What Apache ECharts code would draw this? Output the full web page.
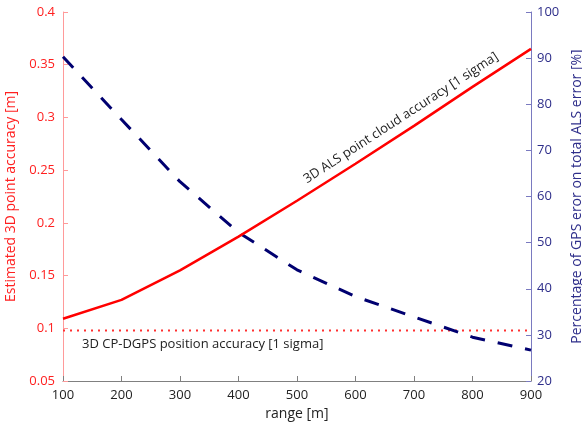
<!DOCTYPE html>
<html>
<head>
<meta charset="utf-8">
<script src="https://cdn.jsdelivr.net/npm/echarts@6/dist/echarts.min.js"></script>
<style>
  html, body { margin: 0; padding: 0; background: #fff; }
  #chart { width: 582px; height: 426px; }
</style>
</head>
<body>
<div id="chart"></div>
<script>
// range [m]
var range = [100, 200, 300, 400, 500, 600, 700, 800, 900];
// 3D ALS point cloud accuracy [m], left axis
var alsAccuracy = [0.109, 0.127, 0.155, 0.187, 0.221, 0.256, 0.292, 0.329, 0.365];
// share of GPS error on total ALS error [%], right axis
var gpsShare = [90.3, 76.7, 63.2, 52.2, 44.1, 38.3, 33.9, 29.5, 26.7];
// 3D CP-DGPS position accuracy [m], constant
var gpsAccuracy = 0.098;

var font = 'Open Sans';

var pairs = function (xs, ys) {
    return xs.map(function (x, i) { return [x, ys[i]]; });
};

var myChart = echarts.init(document.getElementById('chart'));

var option = {
    animation: false,
    textStyle: { fontFamily: font },
    grid: { left: 63, right: 51, top: 12, bottom: 45, outerBoundsMode: 'none' },
    xAxis: {
        type: 'value',
        min: 100,
        max: 900,
        interval: 100,
        name: 'range [m]',
        nameLocation: 'middle',
        nameGap: 23,
        nameTextStyle: { fontFamily: font, fontSize: 14, color: '#222' },
        axisLine: { lineStyle: { color: '#808080', width: 1 } },
        axisTick: { inside: true, length: 5, lineStyle: { color: '#808080' } },
        axisLabel: { fontFamily: font, fontSize: 13, color: '#222', margin: 8 },
        splitLine: { show: false }
    },
    yAxis: [
        {
            type: 'value',
            min: 0.05,
            max: 0.4,
            interval: 0.05,
            position: 'left',
            name: 'Estimated 3D point accuracy [m]',
            nameLocation: 'middle',
            nameGap: 42,
            nameTextStyle: { fontFamily: font, fontSize: 14, color: '#ff2020' },
            axisLine: { show: true, lineStyle: { color: '#ff9a9a', width: 1 } },
            axisTick: { show: true, inside: true, length: 5, lineStyle: { color: '#ff9a9a' } },
            axisLabel: {
                fontFamily: font, fontSize: 13, color: '#ff2020', margin: 8,
                formatter: function (v) { return String(+v.toFixed(2)); }
            },
            splitLine: { show: false }
        },
        {
            type: 'value',
            min: 20,
            max: 100,
            interval: 10,
            position: 'right',
            name: 'Percentage of GPS eror on total ALS error [%]',
            nameLocation: 'middle',
            nameGap: 35,
            nameTextStyle: { fontFamily: font, fontSize: 14, color: '#2e2e8a' },
            axisLine: { show: true, lineStyle: { color: '#7a7ac0', width: 1 } },
            axisTick: { show: true, inside: true, length: 5, lineStyle: { color: '#7a7ac0' } },
            axisLabel: { fontFamily: font, fontSize: 13, color: '#2e2e8a', margin: 6 },
            splitLine: { show: false }
        }
    ],
    series: [
        {
            name: 'GPS accuracy',
            type: 'line',
            yAxisIndex: 0,
            data: [[range[0], gpsAccuracy], [range[range.length - 1], gpsAccuracy]],
            symbol: 'none',
            lineStyle: { color: '#ff3030', width: 2, type: [2, 5] },
            z: 1
        },
        {
            name: 'GPS share',
            type: 'line',
            yAxisIndex: 1,
            data: pairs(range, gpsShare),
            symbol: 'none',
            lineStyle: { color: '#000070', width: 3, type: [15, 13] },
            z: 2
        },
        {
            name: 'ALS accuracy',
            type: 'line',
            yAxisIndex: 0,
            data: pairs(range, alsAccuracy),
            symbol: 'none',
            lineStyle: { color: '#ff0000', width: 2.5 },
            z: 3
        }
    ],
    graphic: [
        {
            type: 'text',
            x: 401,
            y: 118,
            rotation: 33 * Math.PI / 180,
            style: {
                text: '3D ALS point cloud accuracy [1 sigma]',
                fontFamily: font,
                fontSize: 13,
                fill: '#222',
                align: 'center',
                verticalAlign: 'middle'
            }
        },
        {
            type: 'text',
            x: 82,
            y: 344,
            style: {
                text: '3D CP-DGPS position accuracy [1 sigma]',
                fontFamily: font,
                fontSize: 13,
                fill: '#222',
                align: 'left',
                verticalAlign: 'middle'
            }
        }
    ]
};

myChart.setOption(option);
</script>
</body>
</html>
